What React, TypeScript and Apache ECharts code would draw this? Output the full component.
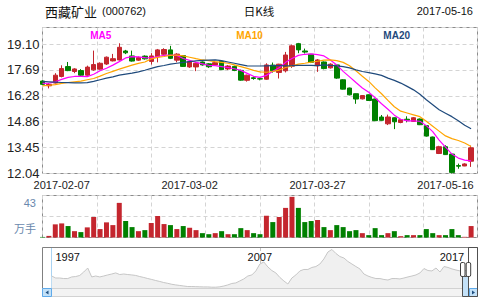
import React, { useEffect, useRef } from 'react';
import * as echarts from 'echarts';

const RED = '#c4262e';
const GREEN = '#008000';
const GRID_LINE = '#d4d4d4';
const BORDER = '#8c8c8c';
const LATIN = '"Liberation Sans", Arial, sans-serif';
const CJK = '"Noto Sans CJK SC", sans-serif';

const stockName = '西藏矿业';
const stockCode = '(000762)';
const chartTitle = '日K线';
const lastDate = '2017-05-16';

const tradeDates = [
  '2017-02-07', '2017-02-08', '2017-02-09', '2017-02-10', '2017-02-13', '2017-02-14', '2017-02-15', '2017-02-16', '2017-02-17',
  '2017-02-20', '2017-02-21', '2017-02-22', '2017-02-23', '2017-02-24', '2017-02-27', '2017-02-28',
  '2017-03-01', '2017-03-02', '2017-03-03', '2017-03-06', '2017-03-07', '2017-03-08', '2017-03-09', '2017-03-10',
  '2017-03-13', '2017-03-14', '2017-03-15', '2017-03-16', '2017-03-17', '2017-03-20', '2017-03-21', '2017-03-22', '2017-03-23', '2017-03-24',
  '2017-03-27', '2017-03-28', '2017-03-29', '2017-03-30', '2017-03-31',
  '2017-04-05', '2017-04-06', '2017-04-07', '2017-04-10', '2017-04-11', '2017-04-12', '2017-04-13', '2017-04-14',
  '2017-04-17', '2017-04-18', '2017-04-19', '2017-04-20', '2017-04-21', '2017-04-24', '2017-04-25', '2017-04-26', '2017-04-27', '2017-04-28',
  '2017-05-02', '2017-05-03', '2017-05-04', '2017-05-05', '2017-05-08', '2017-05-09', '2017-05-10', '2017-05-11', '2017-05-12', '2017-05-15', '2017-05-16',
];

const openPrices = [
  17.08, 16.82, 16.97, 17.33, 17.87, 17.60, 17.65, 17.40, 17.69, 17.73,
  18.01, 18.18, 18.23, 18.72, 18.45, 18.22, 18.44, 18.15, 18.41, 18.54,
  18.78, 18.22, 18.47, 17.85, 17.85, 18.12, 18.02, 17.96, 18.15, 17.74,
  17.88, 17.66, 17.12, 17.26, 17.21, 17.18, 17.95, 17.55, 17.64, 17.89,
  19.12, 18.72, 18.54, 17.91, 18.12, 17.80, 17.96, 17.15, 16.70, 16.39,
  16.11, 16.33, 16.10, 15.12, 14.75, 15.08, 14.82, 15.00, 14.88, 15.01,
  14.65, 14.03, 13.13, 13.50, 13.10, 12.47, 12.45, 12.71,
];
const closePrices = [
  16.90, 16.90, 17.40, 17.76, 17.65, 17.74, 17.40, 17.84, 17.98, 18.05,
  18.38, 18.30, 18.92, 18.62, 18.17, 18.36, 18.29, 18.45, 18.78, 18.80,
  18.32, 18.55, 17.88, 18.14, 18.05, 17.96, 17.86, 18.08, 17.70, 17.90,
  17.66, 17.13, 17.40, 17.22, 17.19, 17.96, 17.64, 18.00, 18.50, 19.00,
  18.78, 18.66, 18.10, 18.23, 17.76, 18.00, 17.24, 16.64, 16.33, 16.10,
  16.29, 16.02, 14.92, 14.94, 15.12, 14.86, 14.97, 14.95, 15.08, 14.70,
  14.08, 13.34, 13.50, 13.07, 12.10, 12.44, 12.56, 13.44,
];
const lowPrices = [
  16.86, 16.68, 16.95, 17.28, 17.62, 17.51, 17.33, 17.37, 17.64, 17.70,
  17.96, 18.15, 18.20, 18.55, 18.14, 18.18, 18.25, 17.98, 18.10, 18.45,
  18.28, 18.10, 17.85, 17.80, 17.62, 17.92, 17.80, 17.93, 17.68, 17.68,
  17.62, 17.10, 17.05, 17.15, 17.12, 17.15, 17.54, 17.22, 17.55, 17.80,
  18.60, 18.58, 18.06, 17.58, 17.72, 17.76, 17.20, 16.62, 16.30, 15.84,
  16.08, 16.00, 14.90, 14.92, 14.68, 14.46, 14.78, 14.83, 14.85, 14.68,
  14.05, 13.32, 13.10, 13.05, 12.04, 12.30, 12.44, 12.40,
];
const highPrices = [
  17.12, 16.97, 17.51, 17.94, 18.12, 17.78, 17.73, 17.92, 18.74, 18.10,
  18.42, 18.56, 19.14, 18.78, 18.74, 18.42, 18.48, 18.60, 18.83, 18.87,
  19.00, 18.60, 18.50, 18.18, 18.10, 18.15, 18.06, 18.18, 18.18, 17.95,
  17.92, 17.70, 17.43, 17.34, 17.26, 18.05, 18.09, 18.02, 18.67, 19.07,
  19.16, 18.85, 18.56, 18.28, 18.15, 18.05, 17.98, 17.18, 16.72, 16.40,
  16.31, 16.35, 16.12, 15.23, 15.25, 15.10, 15.00, 15.16, 15.12, 15.04,
  14.68, 14.05, 13.55, 13.58, 13.12, 12.58, 12.60, 13.56,
];

const ma5 = [
  16.95, 16.96, 17.04, 17.17, 17.28, 17.33, 17.34, 17.32, 17.45, 17.64,
  17.78, 17.95, 18.14, 18.34, 18.41, 18.40, 18.36, 18.34, 18.42, 18.48,
  18.50, 18.48, 18.31, 18.21, 18.10, 18.02, 17.94, 17.92, 17.87, 17.82,
  17.75, 17.66, 17.50, 17.34, 17.28, 17.39, 17.61, 17.81, 18.10, 18.31,
  18.48, 18.54, 18.56, 18.52, 18.45, 18.23, 17.96, 17.61, 17.31, 17.00,
  16.70, 16.47, 16.17, 15.84, 15.54, 15.22, 15.00, 14.91, 14.91, 14.89,
  14.65, 14.32, 13.86, 13.48, 13.10, 12.88, 12.77, 12.73,
];
const ma10 = [
  16.82, 16.85, 16.89, 16.95, 17.00, 17.04, 17.08, 17.15, 17.22, 17.35,
  17.49, 17.61, 17.73, 17.84, 17.95, 18.04, 18.12, 18.29, 18.37, 18.42,
  18.48, 18.50, 18.45, 18.38, 18.30, 18.23, 18.19, 18.14, 18.10, 18.05,
  17.96, 17.87, 17.77, 17.66, 17.58, 17.56, 17.60, 17.68, 17.82, 17.91,
  18.00, 18.05, 18.11, 18.16, 18.22, 18.23, 18.19, 18.10, 17.91, 17.64,
  17.34, 17.06, 16.71, 16.39, 16.03, 15.68, 15.44, 15.34, 15.24, 15.14,
  14.89, 14.62, 14.35, 14.09, 13.94, 13.84, 13.70, 13.51,
];
const ma20 = [
  17.06, 17.04, 17.02, 17.00, 16.99, 16.98, 16.98, 16.99, 17.06, 17.15,
  17.24, 17.31, 17.40, 17.46, 17.51, 17.58, 17.67, 17.77, 17.87, 17.93,
  18.00, 18.05, 18.10, 18.14, 18.18, 18.21, 18.22, 18.23, 18.19, 18.12,
  18.05, 17.98, 17.91, 17.90, 17.90, 17.91, 17.92, 17.92, 17.91, 17.92,
  17.94, 17.94, 17.93, 17.92, 17.96, 17.93, 17.91, 17.87, 17.80, 17.69,
  17.60, 17.54, 17.47, 17.39, 17.24, 17.12, 16.97, 16.79, 16.60, 16.36,
  16.06, 15.79, 15.52, 15.33, 15.14, 14.92, 14.67, 14.48,
];

// volume, 万手
const volumes = [
  0.6, 1.7, 13.9, 14.9, 12.1, 6.7, 5.7, 10.7, 21.7, 8.9,
  16.0, 13.1, 36.6, 17.4, 11.0, 6.7, 7.8, 15.3, 22.7, 14.2,
  13.1, 8.9, 12.1, 10.3, 7.8, 4.6, 3.5, 4.6, 6.7, 3.5,
  3.5, 9.9, 7.8, 4.6, 3.5, 23.0, 16.3, 21.7, 31.3, 43.0,
  31.3, 16.3, 17.4, 18.5, 11.0, 7.8, 13.1, 11.0, 6.7, 7.8,
  4.6, 2.5, 9.9, 2.5, 4.6, 6.7, 1.4, 2.5, 2.5, 2.5,
  8.9, 4.6, 2.5, 2.5, 8.9, 2.5, 0.7, 12.1,
];
const volumeMaxLabel = '43';
const volumeUnit = '万手';

const xTickLabels = ['2017-02-07', '2017-03-02', '2017-03-27', '2017-05-16'];
const xTickIndex = [3, 23, 43, 63];

const priceMin = 12.04;
const priceMax = 20.0;
const priceStep = 1.412;

const maNames = ['MA5', 'MA10', 'MA20'];
const maColors = ['#ff00ff', '#ffa500', '#1f4a7c'];

// whole history shown in the navigator (1996 - 2017)
const historyValues = [
  9.0, 7.5, 7.5, 7.1, 7.1, 8.3, 8.6, 9.4, 12.0, 15.0,
  8.3, 9.0, 8.3, 9.0, 9.8, 10.5, 11.3, 10.1, 10.5, 10.1,
  9.8, 9.4, 8.6, 7.9, 7.1, 6.4, 5.6, 4.9, 4.1, 3.5,
  2.8, 2.3, 1.9, 1.5, 1.1, 1.1, 1.0, 0.9, 0.8, 0.8,
  0.6, 0.6, 0.9, 1.5, 2.3, 3.4, 3.8, 5.3, 6.8, 9.0,
  9.8, 12.8, 18.0, 19.5, 15.8, 13.1, 11.3, 7.9, 5.3, 3.0,
  7.5, 9.8, 12.8, 13.9, 13.9, 15.4, 16.1, 18.0, 21.8, 27.0,
  28.9, 25.9, 23.6, 22.5, 19.9, 18.0, 16.1, 14.3, 10.5, 9.0,
  7.9, 7.1, 7.1, 6.4, 6.0, 7.1, 7.1, 6.8, 7.5, 8.3,
  9.0, 9.8, 11.3, 14.6, 13.1, 12.8, 15.0, 12.0, 16.1, 15.4,
  14.3, 13.5, 12.8, 12.8, 13.5,
];
const historyTickLabels = ['1997', '2007', '2017'];
const historyTickIndex = [4, 52, 100];

function text(t: string, x: number, y: number, o: any = {}) {
  const align = o.align || 'left';
  return {
    type: 'text',
    silent: true,
    z: 20,
    style: {
      text: t,
      x,
      y,
      fill: o.fill || '#111',
      fontSize: o.size || 11,
      fontFamily: o.family || LATIN,
      fontWeight: o.weight || 'normal',
      textAlign: align,
      align,
      textVerticalAlign: 'middle',
      verticalAlign: 'middle',
    },
  };
}

function rect(x: number, y: number, w: number, h: number, fill: string, stroke: string, z = 10, r = 0) {
  return {
    type: 'rect',
    silent: true,
    z,
    shape: { x, y, width: w, height: h, r },
    style: { fill, stroke, lineWidth: 1 },
  };
}

export default function App() {
  const ref = useRef<HTMLDivElement>(null);

  useEffect(() => {
    if (!ref.current) return;
    const chart = echarts.init(ref.current, null, { renderer: 'svg' });

    const klineCats = [...tradeDates, ''];
    const historyCats = historyValues.map((_, i) => String(i));
    const candleData = openPrices.map((o, i) => [o, closePrices[i], lowPrices[i], highPrices[i]]);
    const dashed = { color: GRID_LINE, type: [4, 3] as any, width: 1 };

    const splitAxis = (gridIndex: number) => ({
      type: 'value',
      gridIndex,
      min: 0,
      max: 8,
      interval: 1,
      position: 'top',
      axisLine: { show: false },
      axisTick: { show: false },
      axisLabel: { show: false },
      splitLine: { show: true, lineStyle: dashed },
    });

    const option: any = {
      animation: false,
      backgroundColor: '#fff',
      grid: [
        { left: 42.5, top: 27.5, width: 435, height: 146, show: true, borderColor: BORDER, borderWidth: 1, backgroundColor: '#fff' },
        { left: 42.5, top: 195.5, width: 435, height: 42, show: true, borderColor: BORDER, borderWidth: 1, backgroundColor: '#fff' },
        { left: 51.7, top: 248, width: 416.3, height: 40, show: false },
      ],
      xAxis: [
        {
          type: 'category',
          gridIndex: 0,
          data: klineCats,
          boundaryGap: false,
          axisLine: { show: false },
          axisTick: { show: false },
          splitLine: { show: false },
          axisLabel: {
            interval: (index: number) => xTickIndex.includes(index),
            formatter: (_v: string, index: number) => {
              const k = xTickIndex.indexOf(index);
              return k >= 0 ? xTickLabels[k] : '';
            },
            color: '#222',
            fontSize: 11,
            fontFamily: LATIN,
            margin: 6,
          },
        },
        splitAxis(0),
        {
          type: 'category',
          gridIndex: 1,
          data: klineCats,
          boundaryGap: false,
          axisLine: { show: false },
          axisTick: { show: false },
          axisLabel: { show: false },
          splitLine: { show: false },
        },
        splitAxis(1),
        {
          type: 'category',
          gridIndex: 2,
          data: historyCats,
          boundaryGap: false,
          position: 'top',
          axisLine: { show: false },
          axisTick: { show: false },
          axisLabel: {
            inside: true,
            interval: (index: number) => historyTickIndex.includes(index),
            formatter: (_v: string, index: number) => {
              const k = historyTickIndex.indexOf(index);
              return k >= 0 ? historyTickLabels[k] : '';
            },
            color: '#111',
            fontSize: 11,
            fontFamily: LATIN,
            margin: 3,
          },
          splitLine: {
            show: true,
            interval: (index: number) => index === historyTickIndex[1],
            lineStyle: { color: '#c4c4c4', type: [3, 3] as any, width: 1 },
          },
        },
      ],
      yAxis: [
        {
          type: 'value',
          gridIndex: 0,
          min: priceMin,
          max: priceMax,
          interval: priceStep,
          axisLine: { show: false },
          axisTick: { show: false },
          axisLabel: {
            formatter: (v: number) => (v > priceMax - 0.5 ? '' : v.toFixed(2)),
            color: '#222',
            fontSize: 13,
            fontFamily: LATIN,
            margin: 3,
          },
          splitLine: { show: true, lineStyle: dashed },
        },
        {
          type: 'value',
          gridIndex: 1,
          min: 0,
          max: 44.4,
          interval: 22.2,
          axisLine: { show: false },
          axisTick: { show: false },
          axisLabel: { show: false },
          splitLine: { show: true, lineStyle: dashed },
        },
        {
          type: 'value',
          gridIndex: 2,
          min: 0,
          max: 30,
          axisLine: { show: true, lineStyle: { color: '#a9d3f2', width: 1 } },
          axisTick: { show: false },
          axisLabel: { show: false },
          splitLine: { show: false },
        },
      ],
      series: [
        {
          type: 'candlestick',
          xAxisIndex: 0,
          yAxisIndex: 0,
          data: candleData,
          barWidth: 5,
          itemStyle: { color: RED, color0: GREEN, borderColor: RED, borderColor0: GREEN, borderWidth: 1 },
        },
        ...[ma5, ma10, ma20].map((d, i) => ({
          type: 'line',
          name: maNames[i],
          xAxisIndex: 0,
          yAxisIndex: 0,
          data: d,
          showSymbol: false,
          symbol: 'none',
          smooth: false,
          lineStyle: { color: maColors[i], width: 1.2 },
          z: 3,
        })),
        {
          type: 'bar',
          xAxisIndex: 2,
          yAxisIndex: 1,
          data: volumes,
          barWidth: 5,
          itemStyle: {
            color: (p: any) => (closePrices[p.dataIndex] >= openPrices[p.dataIndex] ? RED : GREEN),
          },
        },
        {
          type: 'line',
          xAxisIndex: 4,
          yAxisIndex: 2,
          data: historyValues,
          showSymbol: false,
          symbol: 'none',
          lineStyle: { color: '#c6c6c6', width: 1 },
          areaStyle: { color: '#f0f0f0', opacity: 1 },
        },
      ],
      graphic: {
        elements: [
          text(stockName, 45, 11, { size: 13, family: CJK, fill: '#111' }),
          text(stockCode, 102, 11, { size: 11, fill: '#111' }),
          text(chartTitle, 259, 11, { size: 11.5, family: CJK, fill: '#111', align: 'center' }),
          text(lastDate, 473, 11, { size: 11, fill: '#111', align: 'right' }),
          text(maNames[0], 100.7, 35, { size: 10, weight: 'bold', fill: maColors[0], align: 'center' }),
          text(maNames[1], 249.5, 35, { size: 10, weight: 'bold', fill: maColors[1], align: 'center' }),
          text(maNames[2], 396.7, 35, { size: 10, weight: 'bold', fill: maColors[2], align: 'center' }),
          text(volumeMaxLabel, 36, 203, { size: 11, fill: '#6a88ad', align: 'right' }),
          text(volumeUnit, 36, 227.5, { size: 11, family: CJK, fill: '#6a88ad', align: 'right' }),
          // navigator frame
          rect(42.5, 247.5, 435, 49, 'none', '#808080', 8),
          rect(42.5, 288.5, 435, 8, '#f3f3f3', '#d2d2d2', 8),
          rect(42.5, 288.5, 9, 8, '#c3e1f8', '#5faaea', 9),
          {
            type: 'polygon', silent: true, z: 10,
            shape: { points: [[45.5, 292.5], [48.5, 290.5], [48.5, 294.5]] },
            style: { fill: '#1e4f80' },
          },
          rect(469.5, 288.5, 8, 8, '#c3e1f8', '#5faaea', 9),
          {
            type: 'polygon', silent: true, z: 10,
            shape: { points: [[475, 292.5], [472, 290.5], [472, 294.5]] },
            style: { fill: '#1e4f80' },
          },
          rect(462.5, 276.5, 6, 20, '#c3e1f8', '#505050', 11),
          rect(468.5, 247.5, 9, 49, 'none', '#505050', 11),
          rect(460.5, 262.5, 4.5, 14, '#fff', '#404040', 12, 1.5),
          rect(466.2, 262.5, 4.5, 14, '#fff', '#404040', 12, 1.5),
        ],
      },
    };

    chart.setOption(option);
    return () => chart.dispose();
  }, []);

  return (
    <div
      ref={ref}
      style={{ position: 'absolute', left: 0, top: 0, width: 494, height: 307, background: '#fff' }}
    />
  );
}
